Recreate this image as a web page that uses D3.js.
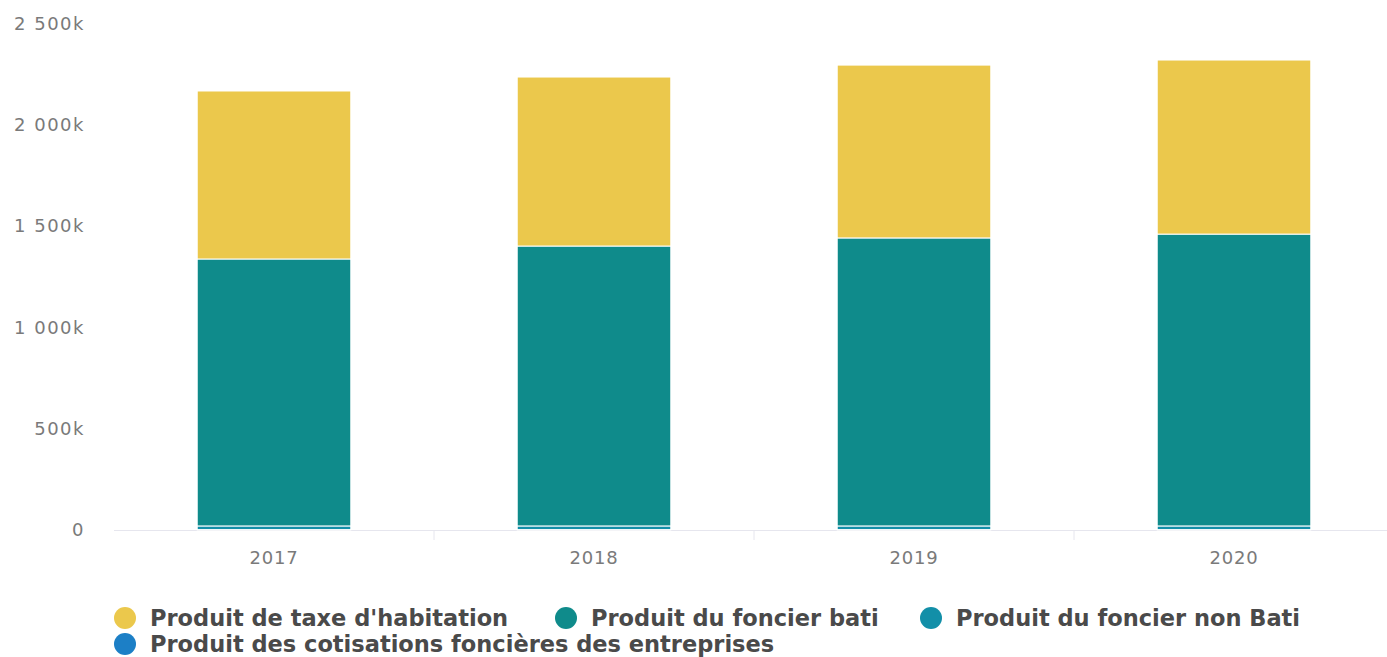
<!DOCTYPE html>
<html>
<head>
<meta charset="utf-8">
<script src="https://cdn.jsdelivr.net/npm/d3@7"></script>
<style>
  body { margin: 0; background: #fff; }
  .axis text { font-family: "DejaVu Sans", sans-serif; }
</style>
</head>
<body>
<div id="chart"></div>
<script>
// values in thousands
var years = ["2017", "2018", "2019", "2020"];
var cotisations = [2, 2, 2, 2];
var foncierNonBati = [18, 18, 18, 18];
var foncierBati = [1319, 1383, 1423, 1442];
var taxeHabitation = [830, 835, 854, 860];
var yTicks = [0, 500, 1000, 1500, 2000, 2500];

var seriesNames = ["Produit des cotisations foncières des entreprises", "Produit du foncier non Bati", "Produit du foncier bati", "Produit de taxe d'habitation"];
var seriesValues = [cotisations, foncierNonBati, foncierBati, taxeHabitation];
var seriesColors = ["#1c7fc6", "#128fa8", "#0f8b8b", "#ebc84c"];

var w = 1387;
var h = 657;

var svg = d3.select("#chart")
    .append("svg")
    .attr("width", w)
    .attr("height", h);

var rows = years.map(function (y, i) {
    var r = { year: y };
    seriesNames.forEach(function (n, k) { r[n] = seriesValues[k][i]; });
    return r;
});

var stacked = d3.stack().keys(seriesNames)(rows);

var xScale = d3.scaleBand()
    .domain(years)
    .range([114, 1394])
    .paddingInner(0.52)
    .paddingOuter(0.26);

var yScale = d3.scaleLinear()
    .domain([0, 2500])
    .range([530, 24]);

var fmt = function (d) {
    if (d === 0) return "0";
    return d3.format(",")(d).replace(",", " ") + "k";
};

// y axis labels
svg.append("g")
    .attr("class", "axis")
    .selectAll("text")
    .data(yTicks)
    .enter()
    .append("text")
    .attr("x", 85)
    .attr("y", function (d) { return yScale(d) + 6; })
    .attr("text-anchor", "end")
    .attr("font-size", "18px")
    .attr("letter-spacing", "1.5px")
    .attr("fill", "#7a7a7a")
    .text(fmt);

// baseline
svg.append("line")
    .attr("x1", 114).attr("x2", w)
    .attr("y1", yScale(0) + 0.5).attr("y2", yScale(0) + 0.5)
    .attr("stroke", "#e6e6ee");

// x axis ticks between categories
var step = xScale.step();
svg.append("g")
    .selectAll("line")
    .data(years.slice(1))
    .enter()
    .append("line")
    .attr("x1", function (d) { return xScale(d) - (step - xScale.bandwidth()) / 2; })
    .attr("x2", function (d) { return xScale(d) - (step - xScale.bandwidth()) / 2; })
    .attr("y1", yScale(0))
    .attr("y2", yScale(0) + 10)
    .attr("stroke", "#e6e6ee");

svg.append("g")
    .attr("class", "axis")
    .selectAll("text")
    .data(years)
    .enter()
    .append("text")
    .attr("x", function (d) { return xScale(d) + xScale.bandwidth() / 2; })
    .attr("y", 564)
    .attr("text-anchor", "middle")
    .attr("font-size", "18px")
    .attr("letter-spacing", "0.8px")
    .attr("fill", "#7a7a7a")
    .text(function (d) { return d; });

// bars
svg.selectAll("g.layer")
    .data(stacked)
    .enter()
    .append("g")
    .attr("class", "layer")
    .attr("fill", function (d, i) { return seriesColors[i]; })
    .selectAll("rect")
    .data(function (d) { return d; })
    .enter()
    .append("rect")
    .attr("x", function (d) { return xScale(d.data.year); })
    .attr("y", function (d) { return yScale(d[1]); })
    .attr("height", function (d) { return Math.max(0, yScale(d[0]) - yScale(d[1])); })
    .attr("width", xScale.bandwidth())
    .attr("stroke", "#fff")
    .attr("stroke-width", 1);

// legend
var legendItems = [
    { name: "Produit de taxe d'habitation", color: seriesColors[3], x: 125, y: 618 },
    { name: "Produit du foncier bati", color: seriesColors[2], x: 566, y: 618 },
    { name: "Produit du foncier non Bati", color: seriesColors[1], x: 931, y: 618 },
    { name: "Produit des cotisations foncières des entreprises", color: seriesColors[0], x: 125, y: 644 }
];

var legend = svg.selectAll("g.legend")
    .data(legendItems)
    .enter()
    .append("g")
    .attr("class", "legend");

legend.append("circle")
    .attr("cx", function (d) { return d.x; })
    .attr("cy", function (d) { return d.y; })
    .attr("r", 11)
    .attr("fill", function (d) { return d.color; });

legend.append("text")
    .attr("x", function (d) { return d.x + 25; })
    .attr("y", function (d) { return d.y + 8; })
    .attr("font-family", "DejaVu Sans, sans-serif")
    .attr("font-weight", "bold")
    .attr("font-size", "22.5px")
    .attr("fill", "#4a4a4a")
    .text(function (d) { return d.name; });
</script>
</body>
</html>
